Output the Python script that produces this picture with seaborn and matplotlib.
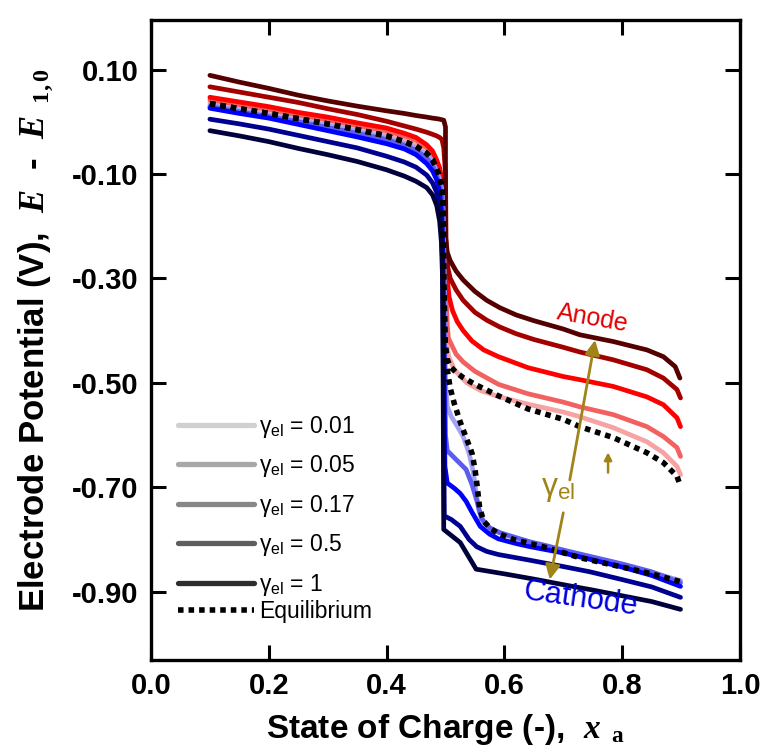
import pandas as pd
import matplotlib
matplotlib.use('Agg')
import matplotlib.pyplot as plt
import seaborn as sns
from matplotlib.lines import Line2D

# ---- data (x = state of charge, v = E - E1,0 in V) ----
gammas = ['0.01', '0.05', '0.17', '0.5', '1']

# shared x grid for the upper plateau (x < 0.49)
up_x = [0.10, 0.15, 0.20, 0.25, 0.30, 0.35, 0.40, 0.43, 0.45, 0.468, 0.478, 0.485, 0.49]

# anode curves
an_x_001 = up_x + [0.494, 0.496, 0.498, 0.500, 0.502, 0.505, 0.515, 0.536, 0.56, 0.592, 0.64, 0.70, 0.728, 0.785, 0.842, 0.87, 0.893, 0.899]
an_v_001 = [0.037, 0.027, 0.018, 0.008, -0.002, -0.013, -0.025, -0.036, -0.045, -0.058, -0.071, -0.088, -0.103,
            -0.123, -0.16, -0.30, -0.38, -0.42, -0.448, -0.475, -0.500, -0.515, -0.527, -0.541, -0.556, -0.565, -0.586, -0.613, -0.634, -0.660, -0.676]

an_x_005 = up_x + [0.494, 0.497, 0.499, 0.501, 0.503, 0.505, 0.518, 0.53, 0.55, 0.59, 0.64, 0.70, 0.728, 0.785, 0.842, 0.87, 0.893, 0.899]
an_v_005 = [0.042, 0.033, 0.024, 0.013, 0.004, -0.007, -0.017, -0.027, -0.035, -0.049, -0.062, -0.080, -0.097,
            -0.12, -0.17, -0.22, -0.33, -0.39, -0.415, -0.445, -0.460, -0.478, -0.503, -0.521, -0.537, -0.546, -0.561, -0.584, -0.603, -0.624, -0.641]

an_x_017 = up_x + [0.494, 0.497, 0.499, 0.501, 0.503, 0.506, 0.512, 0.52, 0.53, 0.545, 0.565, 0.59, 0.64, 0.70, 0.728, 0.785, 0.842, 0.87, 0.893, 0.899]
an_v_017 = [0.047, 0.038, 0.029, 0.018, 0.009, -0.002, -0.012, -0.022, -0.030, -0.044, -0.056, -0.073, -0.088,
            -0.111, -0.15, -0.20, -0.24, -0.30, -0.335, -0.362, -0.383, -0.400, -0.420, -0.437, -0.450, -0.471, -0.488, -0.494, -0.507, -0.527, -0.542, -0.567, -0.584]

an_x_05 = up_x + [0.494, 0.497, 0.500, 0.501, 0.504, 0.508, 0.518, 0.53, 0.55, 0.57, 0.592, 0.62, 0.65, 0.70, 0.728, 0.785, 0.842, 0.87, 0.893, 0.899]
an_v_05 = [0.067, 0.057, 0.047, 0.037, 0.025, 0.014, 0.001, -0.008, -0.014, -0.020, -0.024, -0.027, -0.030,
           -0.034, -0.050, -0.10, -0.24, -0.28, -0.300, -0.322, -0.342, -0.365, -0.380, -0.393, -0.406, -0.417, -0.432, -0.441, -0.456, -0.475, -0.491, -0.513, -0.529]

an_x_1 = up_x + [0.497, 0.500, 0.500, 0.503, 0.508, 0.518, 0.53, 0.55, 0.57, 0.592, 0.62, 0.65, 0.70, 0.728, 0.785, 0.842, 0.87, 0.89, 0.898]
an_v_1 = [0.089, 0.076, 0.064, 0.051, 0.040, 0.030, 0.021, 0.016, 0.012, 0.009, 0.007, 0.006, 0.005,
          0.003, -0.010, -0.220, -0.250, -0.266, -0.286, -0.303, -0.325, -0.342, -0.356, -0.370, -0.381, -0.397, -0.408, -0.421, -0.437, -0.450, -0.469, -0.491]

# cathode curves
ca_x_001 = up_x + [0.494, 0.496, 0.498, 0.500, 0.503, 0.51, 0.52, 0.53, 0.54, 0.547, 0.552, 0.557, 0.565, 0.578, 0.592, 0.615, 0.672, 0.728, 0.80, 0.85, 0.899]
ca_v_001 = [0.032, 0.022, 0.013, 0.003, -0.007, -0.018, -0.030, -0.041, -0.050, -0.063, -0.077, -0.095, -0.110,
            -0.13, -0.17, -0.30, -0.50, -0.545, -0.565, -0.583, -0.603, -0.635, -0.670, -0.710, -0.745, -0.768, -0.780, -0.787, -0.797, -0.812, -0.830, -0.850, -0.863, -0.879]

ca_x_005 = up_x + [0.494, 0.496, 0.498, 0.500, 0.503, 0.518, 0.535, 0.545, 0.553, 0.561, 0.575, 0.592, 0.644, 0.706, 0.80, 0.85, 0.899]
ca_v_005 = [0.029, 0.019, 0.010, 0.000, -0.011, -0.022, -0.034, -0.045, -0.055, -0.069, -0.084, -0.102, -0.120,
            -0.145, -0.19, -0.40, -0.60, -0.630, -0.647, -0.666, -0.695, -0.725, -0.760, -0.778, -0.787, -0.805, -0.822, -0.847, -0.862, -0.883]

ca_x_017 = up_x + [0.493, 0.495, 0.497, 0.499, 0.503, 0.515, 0.525, 0.535, 0.545, 0.559, 0.575, 0.59, 0.62, 0.644, 0.70, 0.745, 0.80, 0.85, 0.899]
ca_v_017 = [0.026, 0.016, 0.007, -0.005, -0.017, -0.029, -0.042, -0.052, -0.063, -0.080, -0.094, -0.111, -0.135,
            -0.17, -0.22, -0.40, -0.66, -0.692, -0.702, -0.712, -0.727, -0.748, -0.775, -0.790, -0.799, -0.808, -0.814, -0.826, -0.838, -0.853, -0.869, -0.890]

ca_x_05 = up_x + [0.493, 0.495, 0.496, 0.497, 0.498, 0.51, 0.525, 0.54, 0.553, 0.57, 0.59, 0.644, 0.70, 0.745, 0.80, 0.85, 0.899]
ca_v_05 = [0.005, -0.004, -0.014, -0.026, -0.038, -0.050, -0.066, -0.077, -0.087, -0.102, -0.117, -0.135, -0.160,
           -0.20, -0.27, -0.40, -0.60, -0.755, -0.762, -0.775, -0.800, -0.814, -0.823, -0.829, -0.840, -0.852, -0.862, -0.877, -0.891, -0.911]

ca_x_1 = up_x + [0.493, 0.495, 0.496, 0.497, 0.525, 0.552, 0.60, 0.65, 0.706, 0.75, 0.80, 0.85, 0.899]
ca_v_1 = [-0.017, -0.027, -0.038, -0.051, -0.063, -0.076, -0.092, -0.104, -0.114, -0.126, -0.140, -0.160, -0.190,
          -0.230, -0.30, -0.50, -0.781, -0.806, -0.857, -0.866, -0.876, -0.888, -0.897, -0.908, -0.919, -0.934]

# equilibrium (anode and cathode branches)
eq_up_v = [0.035, 0.025, 0.016, 0.006, -0.004, -0.015, -0.027, -0.038, -0.047, -0.060, -0.073, -0.090, -0.105]
eq_an_x = up_x + [0.494, 0.496, 0.497, 0.499, 0.503, 0.508, 0.518, 0.53, 0.55, 0.59, 0.64, 0.70, 0.728, 0.785, 0.842, 0.87, 0.893, 0.899]
eq_an_v = eq_up_v + [-0.125, -0.16, -0.30, -0.42, -0.455, -0.469, -0.480, -0.490, -0.503, -0.525, -0.550, -0.570, -0.584, -0.605, -0.634, -0.653, -0.679, -0.698]
eq_ca_x = up_x + [0.494, 0.496, 0.497, 0.500, 0.503, 0.508, 0.515, 0.525, 0.535, 0.545, 0.55, 0.554, 0.558, 0.565, 0.576, 0.59, 0.615, 0.672, 0.728, 0.80, 0.85, 0.899]
eq_ca_v = eq_up_v + [-0.125, -0.16, -0.30, -0.45, -0.475, -0.51, -0.54, -0.575, -0.605, -0.635, -0.665, -0.70, -0.74, -0.765, -0.779, -0.789, -0.800, -0.816, -0.835, -0.853, -0.866, -0.881]

anode_colors = ['#f7a3a3', '#f26060', '#ff0000', '#a30000', '#550000']
cathode_colors = ['#a3a3f5', '#5c5cf0', '#0000ff', '#000090', '#00003c']
legend_grays = ['#d0d0d0', '#a8a8a8', '#878787', '#5e5e5e', '#2e2e2e']

# long table for seaborn
rows = []
anode = [(an_x_001, an_v_001), (an_x_005, an_v_005), (an_x_017, an_v_017), (an_x_05, an_v_05), (an_x_1, an_v_1)]
cathode = [(ca_x_001, ca_v_001), (ca_x_005, ca_v_005), (ca_x_017, ca_v_017), (ca_x_05, ca_v_05), (ca_x_1, ca_v_1)]
palette = {}
for g, (xs, vs), c in zip(gammas, anode, anode_colors):
    palette['anode ' + g] = c
    rows += [dict(x=a, v=b, curve='anode ' + g) for a, b in zip(xs, vs)]
for g, (xs, vs), c in zip(gammas, cathode, cathode_colors):
    palette['cathode ' + g] = c
    rows += [dict(x=a, v=b, curve='cathode ' + g) for a, b in zip(xs, vs)]
df = pd.DataFrame(rows)
eq = pd.DataFrame([dict(x=a, v=b, curve='eq anode') for a, b in zip(eq_an_x, eq_an_v)] +
                  [dict(x=a, v=b, curve='eq cathode') for a, b in zip(eq_ca_x, eq_ca_v)])

sns.set_style('ticks')
plt.rcParams['font.family'] = ['Liberation Sans', 'DejaVu Sans']
plt.rcParams['axes.unicode_minus'] = False
plt.rcParams['mathtext.fontset'] = 'custom'
plt.rcParams['mathtext.it'] = 'Liberation Serif:italic:bold'
plt.rcParams['mathtext.bf'] = 'Liberation Serif:bold'
plt.rcParams['mathtext.rm'] = 'Liberation Sans'
for k in ['text.color', 'axes.labelcolor', 'xtick.color', 'ytick.color', 'axes.edgecolor']:
    plt.rcParams[k] = 'black'

fig = plt.figure(figsize=(7.6, 7.52), dpi=100)
ax = fig.add_axes([151 / 760, 1 - 660 / 752, 589 / 760, 640 / 752])

sns.lineplot(data=df, x='x', y='v', hue='curve', palette=palette, sort=False, estimator=None,
             linewidth=3.4, legend=False, ax=ax)
sns.lineplot(data=eq, x='x', y='v', units='curve', color='black', sort=False, estimator=None,
             linewidth=4, linestyle=(0, (1, 0.9)), legend=False, ax=ax)
for l in ax.lines[-2:]:
    l.set_dash_capstyle('butt')

ax.set_xlim(0, 1)
ax.set_ylim(-1.031, 0.195)
ax.set_xticks([0.0, 0.2, 0.4, 0.6, 0.8, 1.0])
ax.set_xticklabels(['0.0', '0.2', '0.4', '0.6', '0.8', '1.0'])
yt = [0.10, -0.10, -0.30, -0.50, -0.70, -0.90]
ax.set_yticks(yt)
ax.set_yticklabels(['%.2f' % t for t in yt])
ax.tick_params(direction='in', length=11, width=2.2, top=True, right=True, labelsize=21, pad=9)
for t in ax.get_xticklabels() + ax.get_yticklabels():
    t.set_fontweight('bold')
for s in ax.spines.values():
    s.set_linewidth(2.4)

ax.set_xlabel('State of Charge (-),  $x_{\\ \\ \\mathbf{a}}$', fontsize=24, fontweight='bold', labelpad=8)
ax.set_ylabel('Electrode Potential (V),  $E$  -  $E_{\\ \\ \\mathbf{1,0}}$', fontsize=25, fontweight='bold', labelpad=12)

# annotations
gold = '#a08418'
ax.annotate('', xy=(0.754, -0.418), xytext=(0.711, -0.686),
            arrowprops=dict(arrowstyle='-|>', color=gold, lw=2, mutation_scale=22, shrinkA=0, shrinkB=0))
ax.annotate('', xy=(0.677, -0.877), xytext=(0.700, -0.749),
            arrowprops=dict(arrowstyle='-|>', color=gold, lw=2, mutation_scale=22, shrinkA=0, shrinkB=0))
ax.annotate('', xy=(0.776, -0.633), xytext=(0.776, -0.672),
            arrowprops=dict(arrowstyle='-|>', color=gold, lw=1.8, mutation_scale=11, shrinkA=0, shrinkB=0))
ax.text(0.691, -0.703, 'γ$_{\\mathregular{el}}$', color=gold, fontsize=23, ha='center', va='center')
ax.text(0.750, -0.376, 'Anode', color='#e00000', fontsize=18, rotation=-10, ha='center', va='center')
ax.text(0.730, -0.915, 'Cathode', color='#0000e0', fontsize=22, rotation=-8, ha='center', va='center')

# legend: gamma entries and the equilibrium entry set as two blocks
handles = [Line2D([], [], color=c, lw=3.8) for c in legend_grays]
labels = ['γ$_{\\mathregular{el}}$ = ' + g for g in gammas]
leg1 = ax.legend(handles, labels, loc='lower left', bbox_to_anchor=(0.031, 0.083), frameon=False, fontsize=16.5,
                 handlelength=3.3, handletextpad=0.2, labelspacing=0.59, borderaxespad=0)
ax.add_artist(leg1)
eq_handle = [Line2D([], [], color='black', lw=4, linestyle=(0, (1, 0.9)), dash_capstyle='butt')]
ax.legend(eq_handle, ['Equilibrium'], loc='lower left', bbox_to_anchor=(0.031, 0.043), frameon=False, fontsize=16.5,
          handlelength=3.3, handletextpad=0.2, borderaxespad=0)

fig.savefig('out.png', dpi=100)
